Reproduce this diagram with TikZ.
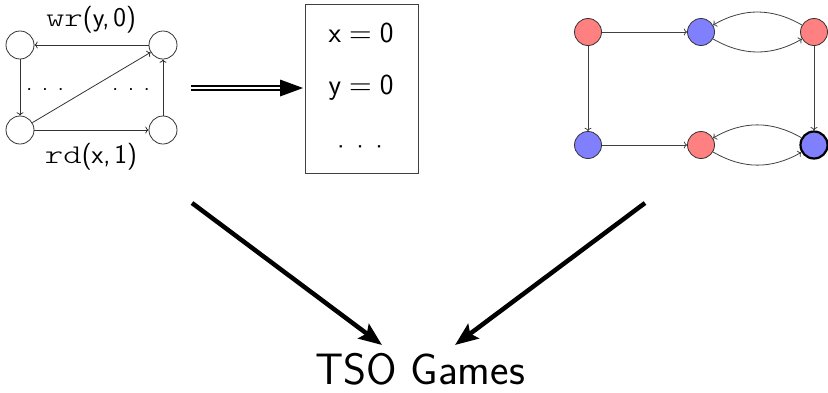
\documentclass[tikz,border=0pt]{standalone}
\usepackage{fontspec}
\usepackage{unicode-math}
\setmonofont{Latin Modern Mono Light}
\usetikzlibrary{arrows.meta}
\newcommand{\ttw}[1]{{\fontsize{27}{32}\selectfont\scalebox{1.3}[1]{\texttt{#1}}}}
\newcommand{\mydots}[1]{\textperiodcentered\hspace{#1}\textperiodcentered\hspace{#1}\textperiodcentered}
\begin{document}
\begin{tikzpicture}[x=1pt,y=-1pt,
  font=\sffamily,
  wnode/.style={circle,draw=black!80,fill=white,minimum size=28pt,inner sep=0pt,line width=0.8pt},
  rnode/.style={circle,draw=black!80,fill=red!50,minimum size=27pt,inner sep=0pt,line width=0.8pt},
  bnode/.style={circle,draw=black!80,fill=blue!50,minimum size=27pt,inner sep=0pt,line width=0.8pt},
  edge1/.style={->,draw=black!80,line width=0.8pt},
  edge2/.style={->,draw=black!75,line width=0.8pt},
  big/.style={-{Stealth[length=23pt,width=18pt,inset=4pt]},line width=4.5pt},
  lab/.style={font=\fontsize{23}{27}\selectfont\sffamily},
  boxtxt/.style={font=\fontsize{29}{33}\selectfont\sffamily}
]
\useasboundingbox (0,0) rectangle (828,392);
% left graph
\node[wnode] (tl) at (20,45) {};
\node[wnode] (tr) at (163,45) {};
\node[wnode] (bl) at (20,130) {};
\node[wnode] (br) at (163,130) {};
\draw[edge1] (tr) -- (tl);
\draw[edge1] (tl) -- (bl);
\draw[edge1] (bl) -- (br);
\draw[edge1] (br) -- (tr);
\draw[edge1] (bl) -- (tr);
\node[lab] (wr) at (91,20) {\ttw{wr}{\fontsize{27}{32}\selectfont(y,\hspace{0.15em}0)}};
\node[lab] (rd) at (91,157) {\ttw{rd}{\fontsize{27}{32}\selectfont(x,\hspace{0.15em}1)}};
\node[lab] (d1) at (45,93) {\mydots{-0.05em}};
\node[lab] (d2) at (131,93) {\mydots{-0.05em}};
% double arrow
\coordinate (da) at (191,88);
\coordinate (db) at (281,88);
\coordinate (dtip) at (303,88);
\draw[double=white,double distance=2.6pt,line width=1.3pt] (da) -- (db);
\fill (dtip) -- ([shift={(-23,-8.5)}]dtip) -- ([shift={(-23,8.5)}]dtip) -- cycle;
% box
\node[draw=black!75,line width=0.9pt,minimum width=113pt,minimum height=169pt,inner sep=0pt] (box) at (362,88.5) {};
\node[boxtxt] (bx) at (361,33) {$\mathsf{x}=\mathsf{0}$};
\node[boxtxt] (by) at (361,88) {$\mathsf{y}=\mathsf{0}$};
\node[lab] (bd) at (360,151) {\fontsize{28}{32}\selectfont\mydots{-0.05em}};
% right graph
\node[rnode] (a1) at (588,32) {};
\node[bnode] (a2) at (701,32) {};
\node[rnode] (a3) at (814,32) {};
\node[bnode] (b1) at (588,145) {};
\node[rnode] (b2) at (701,145) {};
\node[bnode,line width=2.2pt,draw=black] (b3) at (814,145) {};
\draw[edge2] (a1) -- (a2);
\draw[edge2] (a1) -- (b1);
\draw[edge2] (b1) -- (b2);
\draw[edge2] (a3) -- (b3);
\draw[edge2] (a3) to[bend right=30] (a2);
\draw[edge2] (a2) to[bend right=30] (a3);
\draw[edge2] (b3) to[bend right=30] (b2);
\draw[edge2] (b2) to[bend right=30] (b3);
% bottom
\node[font=\fontsize{44}{50}\selectfont\sffamily,inner sep=0pt] (tso) at (420,369) {TSO Games};
\coordinate (s1) at (192,203);
\coordinate (e1) at (382,345);
\coordinate (s2) at (645,203);
\coordinate (e2) at (455,345);
\draw[big] (s1) -- (e1);
\draw[big] (s2) -- (e2);
\end{tikzpicture}
\end{document}
